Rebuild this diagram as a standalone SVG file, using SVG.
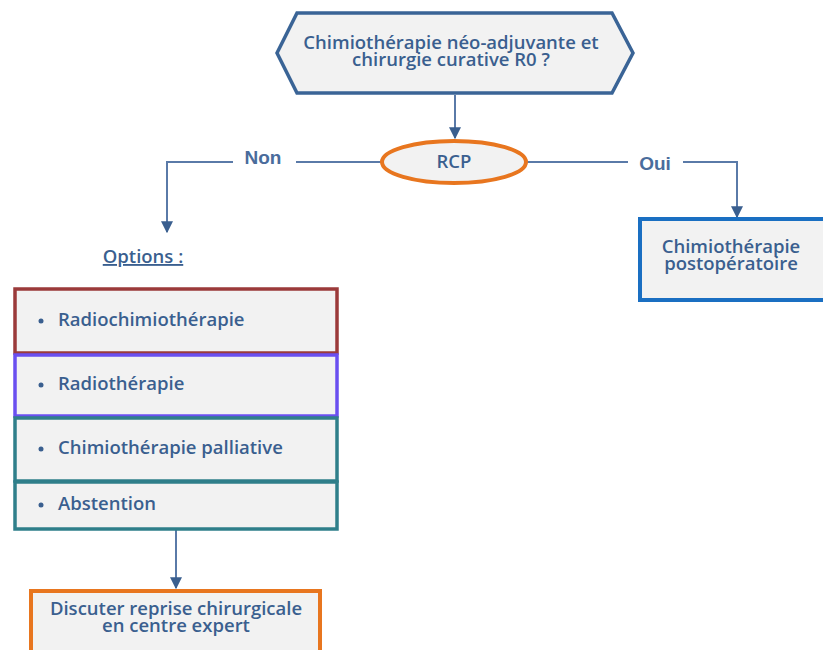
<svg xmlns="http://www.w3.org/2000/svg" width="823" height="650" viewBox="0 0 823 650">
  <style>
    .lbl { font-family: "Open Sans", Lato, "Liberation Sans", sans-serif; font-weight: 600; font-size: 18.5px; fill: #3a5f8f; }
    .edge { font-family: "Liberation Sans", Arial, sans-serif; font-weight: bold; font-size: 19px; fill: #4a6c9c; }
    .box { fill: #f2f2f2; }
    .conn { fill: none; stroke: #5a7aa8; stroke-width: 2; }
  </style>
  <defs>
    <marker id="arrow" viewBox="0 0 10 10" refX="9" refY="5" markerWidth="6" markerHeight="6" orient="auto">
      <path d="M0,0 L10,5 L0,10 Z" fill="#3a5f8f"/>
    </marker>
  </defs>
  <rect width="823" height="650" fill="#ffffff"/>

  <g id="connectors">
    <path class="conn" d="M455,95 L455,138" marker-end="url(#arrow)"/>
    <path class="conn" d="M382,162 L296,162"/>
    <path class="conn" d="M233,162 L167,162 L167,232" marker-end="url(#arrow)"/>
    <path class="conn" d="M526,162 L628,162"/>
    <path class="conn" d="M683,162 L737,162 L737,217" marker-end="url(#arrow)"/>
    <path class="conn" d="M176,530 L176,588" marker-end="url(#arrow)"/>
    <text class="edge" x="263" y="164" text-anchor="middle">Non</text>
    <text class="edge" x="655" y="170" text-anchor="middle">Oui</text>
  </g>

  <g id="question">
    <polygon class="box" points="297,13 612,13 633,53 612,93 297,93 277,53" stroke="#3a6496" stroke-width="3.5"/>
    <text class="lbl" x="451" y="49" text-anchor="middle">Chimiothérapie néo-adjuvante et</text>
    <text class="lbl" x="451" y="66" text-anchor="middle">chirurgie curative R0 ?</text>
  </g>

  <g id="rcp">
    <ellipse class="box" cx="454" cy="162" rx="72" ry="21" stroke="#e8761f" stroke-width="4"/>
    <text class="lbl" x="454" y="168" text-anchor="middle">RCP</text>
  </g>

  <g id="postop">
    <rect class="box" x="640" y="219" width="190" height="81" stroke="#1a6fc2" stroke-width="4"/>
    <text class="lbl" x="731" y="253" text-anchor="middle">Chimiothérapie</text>
    <text class="lbl" x="731" y="270" text-anchor="middle">postopératoire</text>
  </g>

  <g id="options-title">
    <text class="lbl" x="143" y="263" text-anchor="middle" text-decoration="underline">Options :</text>
  </g>

  <g id="opt-radiochimio">
    <rect class="box" x="15" y="289" width="322" height="64" stroke="#9b3a3a" stroke-width="3.5"/>
    <circle cx="41" cy="321" r="2.5" fill="#3a5f8f"/>
    <text class="lbl" x="58" y="326">Radiochimiothérapie</text>
  </g>

  <g id="opt-radio">
    <rect class="box" x="15" y="355" width="322" height="61" stroke="#6a4ff0" stroke-width="3.5"/>
    <circle cx="41" cy="385" r="2.5" fill="#3a5f8f"/>
    <text class="lbl" x="58" y="390">Radiothérapie</text>
  </g>

  <g id="opt-palliative">
    <rect class="box" x="15" y="418" width="322" height="63" stroke="#2f7f8a" stroke-width="3.5"/>
    <circle cx="41" cy="449" r="2.5" fill="#3a5f8f"/>
    <text class="lbl" x="58" y="454">Chimiothérapie palliative</text>
  </g>

  <g id="opt-abstention">
    <rect class="box" x="15" y="482" width="322" height="47" stroke="#2f7f8a" stroke-width="3.5"/>
    <circle cx="41" cy="505" r="2.5" fill="#3a5f8f"/>
    <text class="lbl" x="58" y="510">Abstention</text>
  </g>

  <g id="reprise">
    <rect class="box" x="31" y="591" width="289" height="80" stroke="#e8761f" stroke-width="4"/>
    <text class="lbl" x="176" y="615" text-anchor="middle">Discuter reprise chirurgicale</text>
    <text class="lbl" x="176" y="632" text-anchor="middle">en centre expert</text>
  </g>
</svg>
